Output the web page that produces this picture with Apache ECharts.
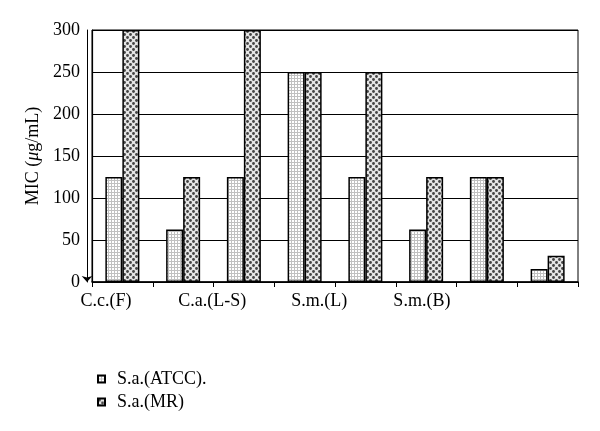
<!DOCTYPE html>
<html>
<head>
<meta charset="utf-8">
<script src="https://cdn.jsdelivr.net/npm/echarts@6/dist/echarts.min.js"></script>
<style>html,body{margin:0;padding:0;background:#fff;}#c{width:600px;height:431px;}</style>
</head>
<body>
<div id="c"></div>
<script>
// ---- data ----
var categories = ['G1', 'G2', 'G3', 'G4', 'G5', 'G6', 'G7', 'G8'];
var seriesNames = ['S.a.(ATCC).', 'S.a.(MR)'];
var atccValues = [125, 62.5, 125, 250, 125, 62.5, 125, 15.6];
var mrValues = [300, 125, 300, 250, 250, 125, 125, 31.25];
var xLabelNames = ['C.c.(F)', 'C.a.(L-S)', 'S.m.(L)', 'S.m.(B)'];
var xLabelSlots = [0.23, 1.98, 3.74, 5.43]; // positions in category units
var yTicks = [0, 50, 100, 150, 200, 250, 300];

function makePattern(kind) {
  var c = document.createElement('canvas');
  var ctx = c.getContext('2d');
  if (kind === 'grid') {
    c.width = 3; c.height = 3;
    ctx.fillStyle = '#ffffff'; ctx.fillRect(0, 0, 3, 3);
    ctx.fillStyle = '#c0c0c0';
    ctx.fillRect(0, 0, 3, 1);
    ctx.fillRect(0, 0, 1, 3);
  } else {
    c.width = 6; c.height = 6;
    ctx.fillStyle = '#e6e6e6'; ctx.fillRect(0, 0, 6, 6);
    ctx.fillStyle = '#444444';
    ctx.beginPath(); ctx.arc(1.5, 1.5, 1.4, 0, Math.PI * 2); ctx.fill();
    ctx.beginPath(); ctx.arc(4.5, 4.5, 1.4, 0, Math.PI * 2); ctx.fill();
  }
  return { image: c, repeat: 'repeat' };
}

var FONT = 'Liberation Serif';
var chart = echarts.init(document.getElementById('c'), null, { renderer: 'canvas' });
chart.setOption({
  animation: false,
  backgroundColor: '#fff',
  textStyle: { fontFamily: FONT, color: '#000' },
  grid: { left: 92, right: 22, top: 30, bottom: 149, show: true, borderColor: '#000', borderWidth: 1, containLabel: false },
  legend: {
    orient: 'vertical', left: 92, top: 365, itemGap: 5, itemWidth: 7, itemHeight: 7, icon: 'rect',
    textStyle: { fontFamily: FONT, fontSize: 18, color: '#000', padding: [0, 0, 0, 7] },
    data: seriesNames
  },
  xAxis: [{
    type: 'category', data: categories, position: 'bottom',
    axisLine: { show: true, lineStyle: { color: '#000', width: 1.5 } },
    axisTick: { show: true, length: 5, lineStyle: { color: '#000', width: 1 } },
    axisLabel: { show: false }
  }, {
    type: 'value', min: 0, max: 8, position: 'bottom',
    axisLine: { show: false }, axisTick: { show: false }, splitLine: { show: false },
    axisLabel: {
      show: true, customValues: xLabelSlots, margin: 10,
      fontFamily: FONT, fontSize: 18, color: '#000',
      formatter: function (v) { var i = xLabelSlots.indexOf(v); return i >= 0 ? xLabelNames[i] : ''; }
    }
  }],
  yAxis: [{
    type: 'value', min: yTicks[0], max: yTicks[yTicks.length - 1], interval: 50,
    name: 'MIC ({i|μ}g/mL)', nameLocation: 'middle', nameGap: 50, nameRotate: 90,
    nameTextStyle: { fontFamily: FONT, fontSize: 18, color: '#000', rich: { i: { fontFamily: FONT, fontSize: 18, fontStyle: 'italic', color: '#000' } } },
    axisLine: { show: true, lineStyle: { color: '#000', width: 1.2 } },
    axisTick: { show: false },
    axisLabel: { fontFamily: FONT, fontSize: 18, color: '#000', margin: 12 },
    splitLine: { show: true, lineStyle: { color: '#000', width: 1.2 } }
  }, {
    type: 'value', min: 0, max: 300, position: 'left', offset: 5,
    axisLine: { show: true, symbol: ['arrow', 'none'], symbolSize: [8, 6], lineStyle: { color: '#000', width: 1 } },
    axisTick: { show: false }, axisLabel: { show: false }, splitLine: { show: false }
  }],
  series: [{
    name: seriesNames[0], type: 'bar', data: atccValues, barWidth: 17, barGap: '0%',
    itemStyle: { color: makePattern('grid'), borderColor: '#000', borderWidth: 1.5 }
  }, {
    name: seriesNames[1], type: 'bar', data: mrValues, barWidth: 17, barGap: '0%',
    itemStyle: { color: makePattern('dots'), borderColor: '#000', borderWidth: 1.5 }
  }]
});
</script>
</body>
</html>
